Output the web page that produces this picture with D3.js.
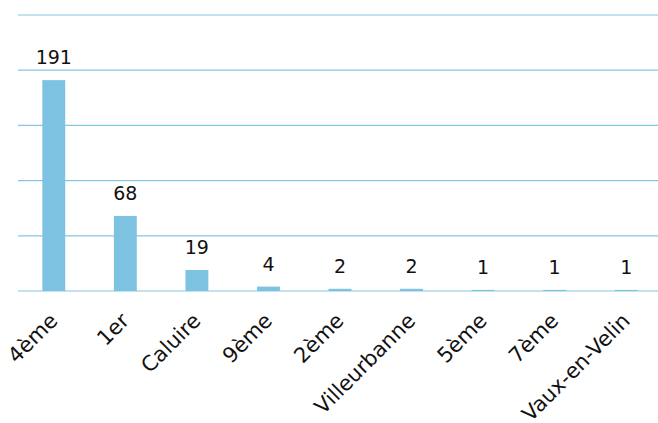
<!DOCTYPE html>
<html>
<head>
<meta charset="utf-8">
<script src="https://cdn.jsdelivr.net/npm/d3@7"></script>
<style>
  body { margin: 0; background: #fff; }
  text { font-family: "DejaVu Sans", Verdana, sans-serif; }
</style>
</head>
<body>
<svg id="chart" width="658" height="423"></svg>
<script>
const categories = ['4ème', '1er', 'Caluire', '9ème', '2ème', 'Villeurbanne', '5ème', '7ème', 'Vaux-en-Velin'];
const counts = [191, 68, 19, 4, 2, 2, 1, 1, 1];
const gridTicks = [0, 50, 100, 150, 200, 250];

const svg = d3.select('#chart');
const plotLeft = 18, plotRight = 662, plotTop = 15, plotBottom = 291;

const x = d3.scaleBand()
  .domain(categories)
  .range([plotLeft, plotRight])
  .paddingInner(0.68)
  .paddingOuter(0.34);

const y = d3.scaleLinear()
  .domain([0, 250])
  .range([plotBottom, plotTop]);

// gridlines
svg.append('g')
  .selectAll('line')
  .data(gridTicks)
  .join('line')
  .attr('x1', plotLeft)
  .attr('x2', 658)
  .attr('y1', d => y(d))
  .attr('y2', d => y(d))
  .attr('stroke', '#86c6e2')
  .attr('stroke-width', 1.2);

const data = categories.map((c, i) => ({ name: c, value: counts[i] }));

svg.append('g')
  .selectAll('rect')
  .data(data)
  .join('rect')
  .attr('x', d => x(d.name))
  .attr('y', d => y(d.value))
  .attr('width', x.bandwidth())
  .attr('height', d => plotBottom - y(d.value))
  .attr('fill', '#7dc2e0');

// value labels
svg.append('g')
  .selectAll('text')
  .data(data)
  .join('text')
  .attr('x', d => x(d.name) + x.bandwidth() / 2)
  .attr('y', d => y(d.value) - 16)
  .attr('text-anchor', 'middle')
  .attr('font-size', '19px')
  .attr('fill', '#111')
  .text(d => d.value);

// category labels
svg.append('g')
  .selectAll('text')
  .data(data)
  .join('text')
  .attr('transform', d => `translate(${x(d.name) + x.bandwidth() / 2 + 5},${plotBottom + 31}) rotate(-45)`)
  .attr('text-anchor', 'end')
  .attr('font-size', '21px')
  .attr('fill', '#111')
  .text(d => d.name);
</script>
</body>
</html>
